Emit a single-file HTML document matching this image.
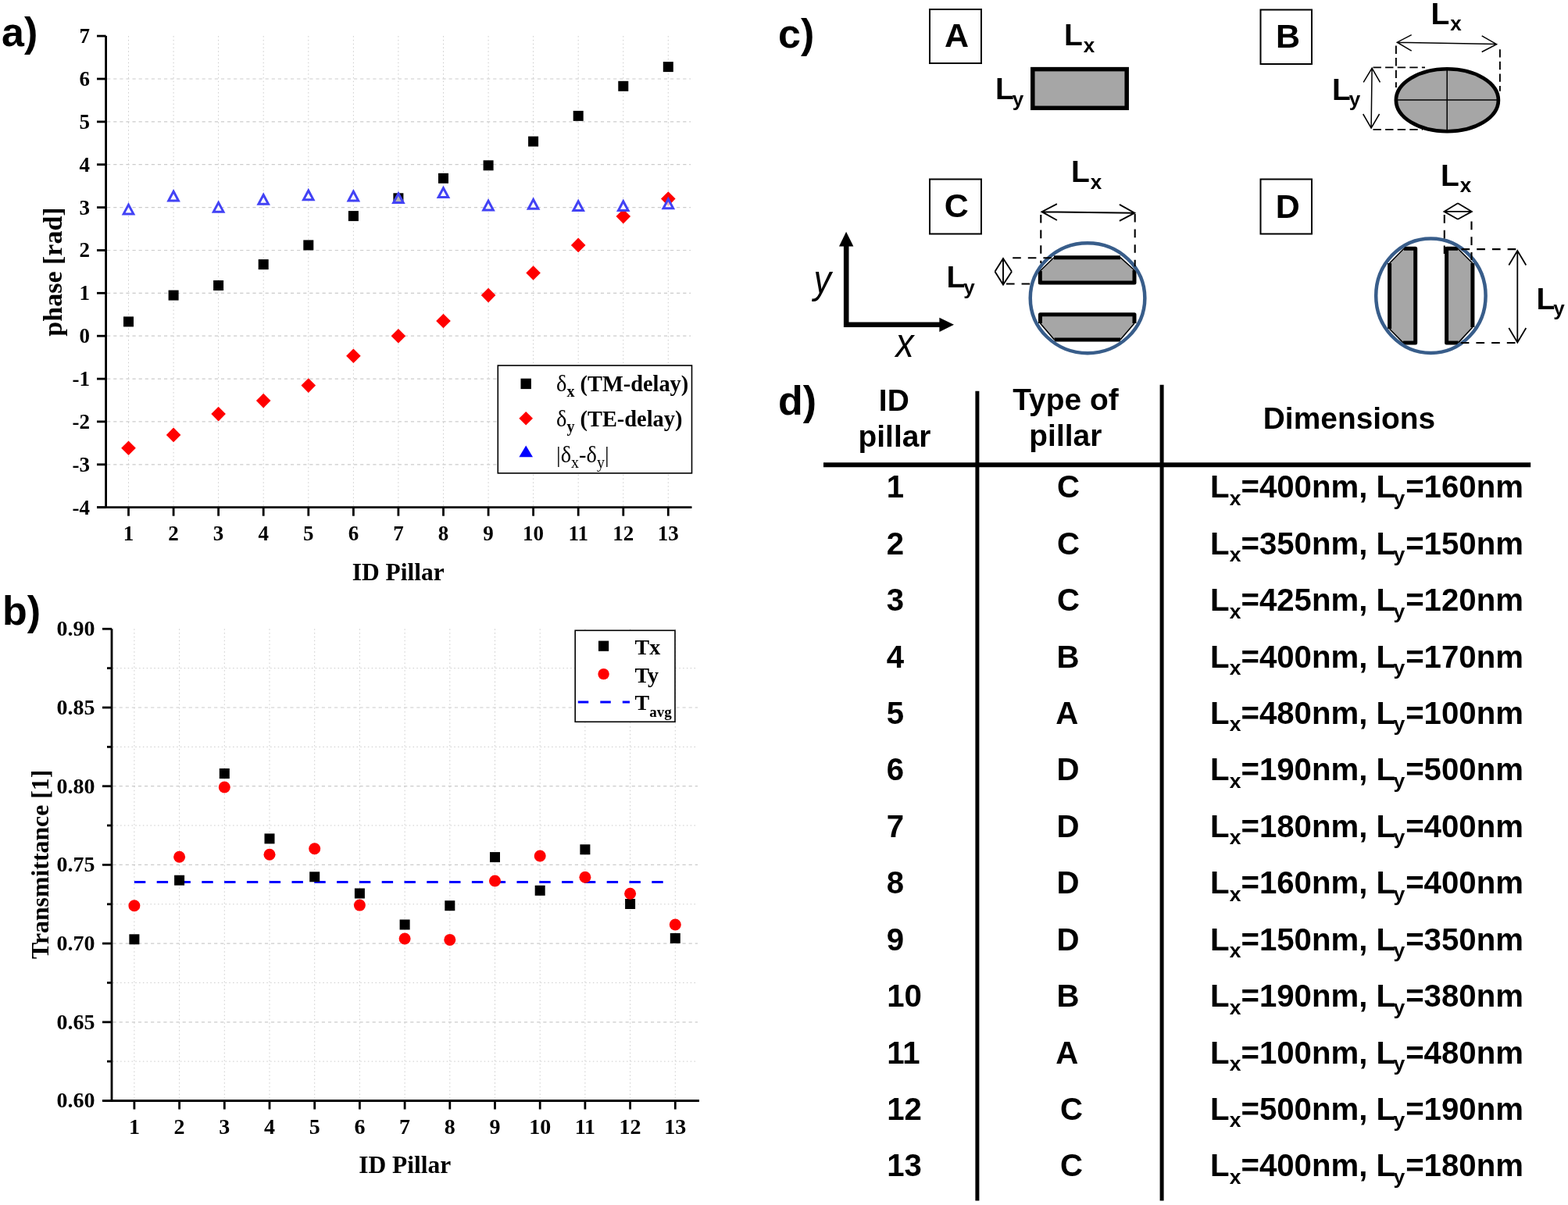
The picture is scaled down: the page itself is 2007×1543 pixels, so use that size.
<!DOCTYPE html>
<html><head><meta charset="utf-8"><title>Figure</title>
<style>html,body{margin:0;padding:0;background:#fff;}svg{display:block;}</style>
</head><body>
<svg width="2007" height="1543" viewBox="0 0 2007 1543">
<rect width="2007" height="1543" fill="#fff"/>
<line x1="164.5" y1="46.1" x2="164.5" y2="649.7" stroke="#cbcbcb" stroke-width="1" stroke-dasharray="1.5 3.3"/>
<line x1="222.1" y1="46.1" x2="222.1" y2="649.7" stroke="#cbcbcb" stroke-width="1" stroke-dasharray="1.5 3.3"/>
<line x1="279.6" y1="46.1" x2="279.6" y2="649.7" stroke="#cbcbcb" stroke-width="1" stroke-dasharray="1.5 3.3"/>
<line x1="337.2" y1="46.1" x2="337.2" y2="649.7" stroke="#cbcbcb" stroke-width="1" stroke-dasharray="1.5 3.3"/>
<line x1="394.8" y1="46.1" x2="394.8" y2="649.7" stroke="#cbcbcb" stroke-width="1" stroke-dasharray="1.5 3.3"/>
<line x1="452.4" y1="46.1" x2="452.4" y2="649.7" stroke="#cbcbcb" stroke-width="1" stroke-dasharray="1.5 3.3"/>
<line x1="509.9" y1="46.1" x2="509.9" y2="649.7" stroke="#cbcbcb" stroke-width="1" stroke-dasharray="1.5 3.3"/>
<line x1="567.5" y1="46.1" x2="567.5" y2="649.7" stroke="#cbcbcb" stroke-width="1" stroke-dasharray="1.5 3.3"/>
<line x1="625.1" y1="46.1" x2="625.1" y2="649.7" stroke="#cbcbcb" stroke-width="1" stroke-dasharray="1.5 3.3"/>
<line x1="682.6" y1="46.1" x2="682.6" y2="649.7" stroke="#cbcbcb" stroke-width="1" stroke-dasharray="1.5 3.3"/>
<line x1="740.2" y1="46.1" x2="740.2" y2="649.7" stroke="#cbcbcb" stroke-width="1" stroke-dasharray="1.5 3.3"/>
<line x1="797.8" y1="46.1" x2="797.8" y2="649.7" stroke="#cbcbcb" stroke-width="1" stroke-dasharray="1.5 3.3"/>
<line x1="855.3" y1="46.1" x2="855.3" y2="649.7" stroke="#cbcbcb" stroke-width="1" stroke-dasharray="1.5 3.3"/>
<line x1="137.1" y1="594.8" x2="884.0" y2="594.8" stroke="#cbcbcb" stroke-width="1.2" stroke-dasharray="4.2 3.9"/>
<line x1="137.1" y1="539.9" x2="884.0" y2="539.9" stroke="#cbcbcb" stroke-width="1.2" stroke-dasharray="4.2 3.9"/>
<line x1="137.1" y1="485.1" x2="884.0" y2="485.1" stroke="#cbcbcb" stroke-width="1.2" stroke-dasharray="4.2 3.9"/>
<line x1="137.1" y1="430.2" x2="884.0" y2="430.2" stroke="#cbcbcb" stroke-width="1.2" stroke-dasharray="4.2 3.9"/>
<line x1="137.1" y1="375.3" x2="884.0" y2="375.3" stroke="#cbcbcb" stroke-width="1.2" stroke-dasharray="4.2 3.9"/>
<line x1="137.1" y1="320.5" x2="884.0" y2="320.5" stroke="#cbcbcb" stroke-width="1.2" stroke-dasharray="4.2 3.9"/>
<line x1="137.1" y1="265.6" x2="884.0" y2="265.6" stroke="#cbcbcb" stroke-width="1.2" stroke-dasharray="4.2 3.9"/>
<line x1="137.1" y1="210.7" x2="884.0" y2="210.7" stroke="#cbcbcb" stroke-width="1.2" stroke-dasharray="4.2 3.9"/>
<line x1="137.1" y1="155.9" x2="884.0" y2="155.9" stroke="#cbcbcb" stroke-width="1.2" stroke-dasharray="4.2 3.9"/>
<line x1="137.1" y1="101.0" x2="884.0" y2="101.0" stroke="#cbcbcb" stroke-width="1.2" stroke-dasharray="4.2 3.9"/>
<g stroke="#000" stroke-width="2.8" fill="none">
<line x1="135.6" y1="46.1" x2="135.6" y2="651.0"/>
<line x1="124" y1="649.7" x2="885.5" y2="649.7"/>
<line x1="124" y1="649.7" x2="135.6" y2="649.7"/>
<line x1="124" y1="594.8" x2="135.6" y2="594.8"/>
<line x1="124" y1="539.9" x2="135.6" y2="539.9"/>
<line x1="124" y1="485.1" x2="135.6" y2="485.1"/>
<line x1="124" y1="430.2" x2="135.6" y2="430.2"/>
<line x1="124" y1="375.3" x2="135.6" y2="375.3"/>
<line x1="124" y1="320.5" x2="135.6" y2="320.5"/>
<line x1="124" y1="265.6" x2="135.6" y2="265.6"/>
<line x1="124" y1="210.7" x2="135.6" y2="210.7"/>
<line x1="124" y1="155.9" x2="135.6" y2="155.9"/>
<line x1="124" y1="101.0" x2="135.6" y2="101.0"/>
<line x1="124" y1="46.1" x2="135.6" y2="46.1"/>
<line x1="164.5" y1="649.7" x2="164.5" y2="660.7"/>
<line x1="222.1" y1="649.7" x2="222.1" y2="660.7"/>
<line x1="279.6" y1="649.7" x2="279.6" y2="660.7"/>
<line x1="337.2" y1="649.7" x2="337.2" y2="660.7"/>
<line x1="394.8" y1="649.7" x2="394.8" y2="660.7"/>
<line x1="452.4" y1="649.7" x2="452.4" y2="660.7"/>
<line x1="509.9" y1="649.7" x2="509.9" y2="660.7"/>
<line x1="567.5" y1="649.7" x2="567.5" y2="660.7"/>
<line x1="625.1" y1="649.7" x2="625.1" y2="660.7"/>
<line x1="682.6" y1="649.7" x2="682.6" y2="660.7"/>
<line x1="740.2" y1="649.7" x2="740.2" y2="660.7"/>
<line x1="797.8" y1="649.7" x2="797.8" y2="660.7"/>
<line x1="855.3" y1="649.7" x2="855.3" y2="660.7"/>
</g>
<g style="font-family:'Liberation Serif','Times New Roman',serif;font-weight:bold;font-size:27px" fill="#000">
<text x="115.1" y="658.6" text-anchor="end">-4</text>
<text x="115.1" y="603.7" text-anchor="end">-3</text>
<text x="115.1" y="548.8" text-anchor="end">-2</text>
<text x="115.1" y="494.0" text-anchor="end">-1</text>
<text x="115.1" y="439.1" text-anchor="end">0</text>
<text x="115.1" y="384.2" text-anchor="end">1</text>
<text x="115.1" y="329.4" text-anchor="end">2</text>
<text x="115.1" y="274.5" text-anchor="end">3</text>
<text x="115.1" y="219.6" text-anchor="end">4</text>
<text x="115.1" y="164.8" text-anchor="end">5</text>
<text x="115.1" y="109.9" text-anchor="end">6</text>
<text x="115.1" y="55.0" text-anchor="end">7</text>
<text x="164.5" y="692.4" text-anchor="middle">1</text>
<text x="222.1" y="692.4" text-anchor="middle">2</text>
<text x="279.6" y="692.4" text-anchor="middle">3</text>
<text x="337.2" y="692.4" text-anchor="middle">4</text>
<text x="394.8" y="692.4" text-anchor="middle">5</text>
<text x="452.4" y="692.4" text-anchor="middle">6</text>
<text x="509.9" y="692.4" text-anchor="middle">7</text>
<text x="567.5" y="692.4" text-anchor="middle">8</text>
<text x="625.1" y="692.4" text-anchor="middle">9</text>
<text x="682.6" y="692.4" text-anchor="middle">10</text>
<text x="740.2" y="692.4" text-anchor="middle">11</text>
<text x="797.8" y="692.4" text-anchor="middle">12</text>
<text x="855.3" y="692.4" text-anchor="middle">13</text>
</g>
<text x="509.7" y="743" text-anchor="middle" style="font-family:'Liberation Serif','Times New Roman',serif;font-weight:bold;font-size:31.5px">ID Pillar</text>
<text transform="translate(78.9,348) rotate(-90)" text-anchor="middle" style="font-family:'Liberation Serif','Times New Roman',serif;font-weight:bold;font-size:34px">phase [rad]</text>
<rect x="158.0" y="405.4" width="13" height="13" fill="#000"/>
<rect x="215.6" y="371.6" width="13" height="13" fill="#000"/>
<rect x="273.1" y="359.0" width="13" height="13" fill="#000"/>
<rect x="330.7" y="332.1" width="13" height="13" fill="#000"/>
<rect x="388.3" y="307.4" width="13" height="13" fill="#000"/>
<rect x="445.9" y="270.1" width="13" height="13" fill="#000"/>
<rect x="503.4" y="247.3" width="13" height="13" fill="#000"/>
<rect x="561.0" y="221.8" width="13" height="13" fill="#000"/>
<rect x="618.6" y="205.3" width="13" height="13" fill="#000"/>
<rect x="676.1" y="174.6" width="13" height="13" fill="#000"/>
<rect x="733.7" y="141.9" width="13" height="13" fill="#000"/>
<rect x="791.3" y="103.8" width="13" height="13" fill="#000"/>
<rect x="848.8" y="79.1" width="13" height="13" fill="#000"/>
<path d="M164.5 564.5L173.8 573.8L164.5 583.1L155.2 573.8Z" fill="#ff0000"/>
<path d="M222.1 547.6L231.4 556.9L222.1 566.2L212.8 556.9Z" fill="#ff0000"/>
<path d="M279.6 520.8L288.9 530.1L279.6 539.4L270.3 530.1Z" fill="#ff0000"/>
<path d="M337.2 503.8L346.5 513.1L337.2 522.4L327.9 513.1Z" fill="#ff0000"/>
<path d="M394.8 484.3L404.1 493.6L394.8 502.9L385.5 493.6Z" fill="#ff0000"/>
<path d="M452.4 446.4L461.7 455.7L452.4 465.0L443.1 455.7Z" fill="#ff0000"/>
<path d="M509.9 420.9L519.2 430.2L509.9 439.5L500.6 430.2Z" fill="#ff0000"/>
<path d="M567.5 401.7L576.8 411.0L567.5 420.3L558.2 411.0Z" fill="#ff0000"/>
<path d="M625.1 368.8L634.4 378.1L625.1 387.4L615.8 378.1Z" fill="#ff0000"/>
<path d="M682.6 340.2L691.9 349.5L682.6 358.8L673.3 349.5Z" fill="#ff0000"/>
<path d="M740.2 304.6L749.5 313.9L740.2 323.2L730.9 313.9Z" fill="#ff0000"/>
<path d="M797.8 267.8L807.1 277.1L797.8 286.4L788.5 277.1Z" fill="#ff0000"/>
<path d="M855.3 245.3L864.6 254.6L855.3 263.9L846.0 254.6Z" fill="#ff0000"/>
<path d="M164.50 262.09L170.80 273.89L158.20 273.89Z" fill="rgba(255,255,255,0.7)" stroke="#4242f5" stroke-width="3"/>
<path d="M222.07 245.08L228.37 256.88L215.77 256.88Z" fill="rgba(255,255,255,0.7)" stroke="#4242f5" stroke-width="3"/>
<path d="M279.64 259.34L285.94 271.14L273.34 271.14Z" fill="rgba(255,255,255,0.7)" stroke="#4242f5" stroke-width="3"/>
<path d="M337.21 249.47L343.51 261.27L330.91 261.27Z" fill="rgba(255,255,255,0.7)" stroke="#4242f5" stroke-width="3"/>
<path d="M394.78 243.98L401.08 255.78L388.48 255.78Z" fill="rgba(255,255,255,0.7)" stroke="#4242f5" stroke-width="3"/>
<path d="M452.35 245.08L458.65 256.88L446.05 256.88Z" fill="rgba(255,255,255,0.7)" stroke="#4242f5" stroke-width="3"/>
<path d="M509.92 247.82L516.22 259.62L503.62 259.62Z" fill="rgba(255,255,255,0.7)" stroke="#4242f5" stroke-width="3"/>
<path d="M567.49 240.69L573.79 252.49L561.19 252.49Z" fill="rgba(255,255,255,0.7)" stroke="#4242f5" stroke-width="3"/>
<path d="M625.06 257.15L631.36 268.95L618.76 268.95Z" fill="rgba(255,255,255,0.7)" stroke="#4242f5" stroke-width="3"/>
<path d="M682.63 255.50L688.93 267.30L676.33 267.30Z" fill="rgba(255,255,255,0.7)" stroke="#4242f5" stroke-width="3"/>
<path d="M740.20 257.70L746.50 269.50L733.90 269.50Z" fill="rgba(255,255,255,0.7)" stroke="#4242f5" stroke-width="3"/>
<path d="M797.77 257.70L804.07 269.50L791.47 269.50Z" fill="rgba(255,255,255,0.7)" stroke="#4242f5" stroke-width="3"/>
<path d="M855.34 254.95L861.64 266.75L849.04 266.75Z" fill="rgba(255,255,255,0.7)" stroke="#4242f5" stroke-width="3"/>
<rect x="637.3" y="468" width="248.2" height="137.9" fill="#fff" stroke="#000" stroke-width="1.6"/>
<rect x="666.5" y="484.7" width="13.4" height="13.4" fill="#000"/>
<path d="M673.2 527L682 535.8L673.2 544.6L664.4 535.8Z" fill="#ff0000"/>
<path d="M673.2 570.4L682 585.2L664.4 585.2Z" fill="#0000ff"/>
<g style="font-family:'Liberation Serif','Times New Roman',serif;font-weight:bold;font-size:28.4px" fill="#000">
<text x="712" y="501.2"><tspan font-weight="normal">δ</tspan><tspan font-size="20" dy="7">x</tspan><tspan dy="-7"> (TM-delay)</tspan></text>
<text x="712" y="545.7"><tspan font-weight="normal">δ</tspan><tspan font-size="20" dy="7">y</tspan><tspan dy="-7"> (TE-delay)</tspan></text>
</g>
<text x="712" y="592.4" style="font-family:'Liberation Serif',serif;font-size:28.4px">|δ<tspan font-size="20" dy="7">x</tspan><tspan dy="-7">-δ</tspan><tspan font-size="20" dy="7">y</tspan><tspan dy="-7">|</tspan></text>
<line x1="171.9" y1="805.3" x2="171.9" y2="1409.5" stroke="#cbcbcb" stroke-width="1" stroke-dasharray="1.5 3.3"/>
<line x1="229.6" y1="805.3" x2="229.6" y2="1409.5" stroke="#cbcbcb" stroke-width="1" stroke-dasharray="1.5 3.3"/>
<line x1="287.3" y1="805.3" x2="287.3" y2="1409.5" stroke="#cbcbcb" stroke-width="1" stroke-dasharray="1.5 3.3"/>
<line x1="345.0" y1="805.3" x2="345.0" y2="1409.5" stroke="#cbcbcb" stroke-width="1" stroke-dasharray="1.5 3.3"/>
<line x1="402.7" y1="805.3" x2="402.7" y2="1409.5" stroke="#cbcbcb" stroke-width="1" stroke-dasharray="1.5 3.3"/>
<line x1="460.4" y1="805.3" x2="460.4" y2="1409.5" stroke="#cbcbcb" stroke-width="1" stroke-dasharray="1.5 3.3"/>
<line x1="518.1" y1="805.3" x2="518.1" y2="1409.5" stroke="#cbcbcb" stroke-width="1" stroke-dasharray="1.5 3.3"/>
<line x1="575.8" y1="805.3" x2="575.8" y2="1409.5" stroke="#cbcbcb" stroke-width="1" stroke-dasharray="1.5 3.3"/>
<line x1="633.5" y1="805.3" x2="633.5" y2="1409.5" stroke="#cbcbcb" stroke-width="1" stroke-dasharray="1.5 3.3"/>
<line x1="691.2" y1="805.3" x2="691.2" y2="1409.5" stroke="#cbcbcb" stroke-width="1" stroke-dasharray="1.5 3.3"/>
<line x1="748.9" y1="805.3" x2="748.9" y2="1409.5" stroke="#cbcbcb" stroke-width="1" stroke-dasharray="1.5 3.3"/>
<line x1="806.6" y1="805.3" x2="806.6" y2="1409.5" stroke="#cbcbcb" stroke-width="1" stroke-dasharray="1.5 3.3"/>
<line x1="864.3" y1="805.3" x2="864.3" y2="1409.5" stroke="#cbcbcb" stroke-width="1" stroke-dasharray="1.5 3.3"/>
<line x1="144.5" y1="1308.8" x2="893.0" y2="1308.8" stroke="#cbcbcb" stroke-width="1.2" stroke-dasharray="4.2 3.9"/>
<line x1="144.5" y1="1208.1" x2="893.0" y2="1208.1" stroke="#cbcbcb" stroke-width="1.2" stroke-dasharray="4.2 3.9"/>
<line x1="144.5" y1="1107.4" x2="893.0" y2="1107.4" stroke="#cbcbcb" stroke-width="1.2" stroke-dasharray="4.2 3.9"/>
<line x1="144.5" y1="1006.7" x2="893.0" y2="1006.7" stroke="#cbcbcb" stroke-width="1.2" stroke-dasharray="4.2 3.9"/>
<line x1="144.5" y1="906.0" x2="893.0" y2="906.0" stroke="#cbcbcb" stroke-width="1.2" stroke-dasharray="4.2 3.9"/>
<line x1="144.5" y1="1359.1" x2="893.0" y2="1359.1" stroke="#cbcbcb" stroke-width="1" stroke-dasharray="1.5 3.3"/>
<line x1="144.5" y1="1258.4" x2="893.0" y2="1258.4" stroke="#cbcbcb" stroke-width="1" stroke-dasharray="1.5 3.3"/>
<line x1="144.5" y1="1157.8" x2="893.0" y2="1157.8" stroke="#cbcbcb" stroke-width="1" stroke-dasharray="1.5 3.3"/>
<line x1="144.5" y1="1057.0" x2="893.0" y2="1057.0" stroke="#cbcbcb" stroke-width="1" stroke-dasharray="1.5 3.3"/>
<line x1="144.5" y1="956.4" x2="893.0" y2="956.4" stroke="#cbcbcb" stroke-width="1" stroke-dasharray="1.5 3.3"/>
<line x1="144.5" y1="855.6" x2="893.0" y2="855.6" stroke="#cbcbcb" stroke-width="1" stroke-dasharray="1.5 3.3"/>
<g stroke="#000" stroke-width="2.8" fill="none">
<line x1="143.0" y1="805.3" x2="143.0" y2="1410.8"/>
<line x1="131" y1="1409.5" x2="895.0" y2="1409.5"/>
<line x1="131" y1="1409.5" x2="143.0" y2="1409.5"/>
<line x1="131" y1="1308.8" x2="143.0" y2="1308.8"/>
<line x1="131" y1="1208.1" x2="143.0" y2="1208.1"/>
<line x1="131" y1="1107.4" x2="143.0" y2="1107.4"/>
<line x1="131" y1="1006.7" x2="143.0" y2="1006.7"/>
<line x1="131" y1="906.0" x2="143.0" y2="906.0"/>
<line x1="131" y1="805.3" x2="143.0" y2="805.3"/>
<line x1="137" y1="1359.1" x2="143.0" y2="1359.1"/>
<line x1="137" y1="1258.4" x2="143.0" y2="1258.4"/>
<line x1="137" y1="1157.8" x2="143.0" y2="1157.8"/>
<line x1="137" y1="1057.0" x2="143.0" y2="1057.0"/>
<line x1="137" y1="956.4" x2="143.0" y2="956.4"/>
<line x1="137" y1="855.6" x2="143.0" y2="855.6"/>
<line x1="171.9" y1="1409.5" x2="171.9" y2="1420.5"/>
<line x1="229.6" y1="1409.5" x2="229.6" y2="1420.5"/>
<line x1="287.3" y1="1409.5" x2="287.3" y2="1420.5"/>
<line x1="345.0" y1="1409.5" x2="345.0" y2="1420.5"/>
<line x1="402.7" y1="1409.5" x2="402.7" y2="1420.5"/>
<line x1="460.4" y1="1409.5" x2="460.4" y2="1420.5"/>
<line x1="518.1" y1="1409.5" x2="518.1" y2="1420.5"/>
<line x1="575.8" y1="1409.5" x2="575.8" y2="1420.5"/>
<line x1="633.5" y1="1409.5" x2="633.5" y2="1420.5"/>
<line x1="691.2" y1="1409.5" x2="691.2" y2="1420.5"/>
<line x1="748.9" y1="1409.5" x2="748.9" y2="1420.5"/>
<line x1="806.6" y1="1409.5" x2="806.6" y2="1420.5"/>
<line x1="864.3" y1="1409.5" x2="864.3" y2="1420.5"/>
</g>
<g style="font-family:'Liberation Serif','Times New Roman',serif;font-weight:bold;font-size:28px" fill="#000">
<text x="121.5" y="1418.4" text-anchor="end">0.60</text>
<text x="121.5" y="1317.7" text-anchor="end">0.65</text>
<text x="121.5" y="1217.0" text-anchor="end">0.70</text>
<text x="121.5" y="1116.3" text-anchor="end">0.75</text>
<text x="121.5" y="1015.6" text-anchor="end">0.80</text>
<text x="121.5" y="914.9" text-anchor="end">0.85</text>
<text x="121.5" y="814.2" text-anchor="end">0.90</text>
<text x="171.9" y="1452" text-anchor="middle">1</text>
<text x="229.6" y="1452" text-anchor="middle">2</text>
<text x="287.3" y="1452" text-anchor="middle">3</text>
<text x="345.0" y="1452" text-anchor="middle">4</text>
<text x="402.7" y="1452" text-anchor="middle">5</text>
<text x="460.4" y="1452" text-anchor="middle">6</text>
<text x="518.1" y="1452" text-anchor="middle">7</text>
<text x="575.8" y="1452" text-anchor="middle">8</text>
<text x="633.5" y="1452" text-anchor="middle">9</text>
<text x="691.2" y="1452" text-anchor="middle">10</text>
<text x="748.9" y="1452" text-anchor="middle">11</text>
<text x="806.6" y="1452" text-anchor="middle">12</text>
<text x="864.3" y="1452" text-anchor="middle">13</text>
</g>
<text x="518.2" y="1502" text-anchor="middle" style="font-family:'Liberation Serif','Times New Roman',serif;font-weight:bold;font-size:31.5px">ID Pillar</text>
<text transform="translate(61.5,1106.8) rotate(-90)" text-anchor="middle" style="font-family:'Liberation Serif','Times New Roman',serif;font-weight:bold;font-size:31.8px">Transmittance [1]</text>
<line x1="171.9" y1="1129.6" x2="851" y2="1129.6" stroke="#0000ff" stroke-width="3" stroke-dasharray="14.4 14.4"/>
<rect x="165.4" y="1196.3" width="13" height="13" fill="#000"/>
<rect x="223.1" y="1120.7" width="13" height="13" fill="#000"/>
<rect x="280.8" y="984.0" width="13" height="13" fill="#000"/>
<rect x="338.5" y="1067.4" width="13" height="13" fill="#000"/>
<rect x="396.2" y="1116.3" width="13" height="13" fill="#000"/>
<rect x="453.9" y="1137.5" width="13" height="13" fill="#000"/>
<rect x="511.6" y="1177.5" width="13" height="13" fill="#000"/>
<rect x="569.3" y="1153.2" width="13" height="13" fill="#000"/>
<rect x="627.0" y="1091.1" width="13" height="13" fill="#000"/>
<rect x="684.7" y="1133.8" width="13" height="13" fill="#000"/>
<rect x="742.4" y="1081.3" width="13" height="13" fill="#000"/>
<rect x="800.1" y="1151.0" width="13" height="13" fill="#000"/>
<rect x="857.8" y="1194.9" width="13" height="13" fill="#000"/>
<circle cx="171.9" cy="1159.7" r="7.5" fill="#ff0000"/>
<circle cx="229.6" cy="1097.2" r="7.5" fill="#ff0000"/>
<circle cx="287.3" cy="1008.0" r="7.5" fill="#ff0000"/>
<circle cx="345.0" cy="1094.2" r="7.5" fill="#ff0000"/>
<circle cx="402.7" cy="1086.8" r="7.5" fill="#ff0000"/>
<circle cx="460.4" cy="1159.1" r="7.5" fill="#ff0000"/>
<circle cx="518.1" cy="1202.0" r="7.5" fill="#ff0000"/>
<circle cx="575.8" cy="1203.4" r="7.5" fill="#ff0000"/>
<circle cx="633.5" cy="1128.0" r="7.5" fill="#ff0000"/>
<circle cx="691.2" cy="1096.0" r="7.5" fill="#ff0000"/>
<circle cx="748.9" cy="1123.2" r="7.5" fill="#ff0000"/>
<circle cx="806.6" cy="1144.2" r="7.5" fill="#ff0000"/>
<circle cx="864.3" cy="1184.0" r="7.5" fill="#ff0000"/>
<rect x="736.2" y="807.3" width="127.8" height="117" fill="#fff" stroke="#000" stroke-width="1.6"/>
<rect x="766" y="820.6" width="13.2" height="13.2" fill="#000"/>
<circle cx="772.6" cy="863.1" r="7.2" fill="#ff0000"/>
<line x1="739.8" y1="899.1" x2="806" y2="899.1" stroke="#0000ff" stroke-width="3" stroke-dasharray="13.5 15"/>
<g style="font-family:'Liberation Serif','Times New Roman',serif;font-weight:bold;font-size:28px" fill="#000">
<text x="812.5" y="838">Tx</text>
<text x="812.5" y="874">Ty</text>
<text x="812.5" y="908.7">T<tspan font-size="19" dy="9.6">avg</tspan></text>
</g>
<g style="font-family:'Liberation Sans',Arial,sans-serif;font-weight:bold;font-size:52px" fill="#000">
<text x="2" y="58.5">a)</text>
<text x="3" y="800">b)</text>
<text x="996" y="61">c)</text>
<text x="996" y="531">d)</text>
</g>
<rect x="1190" y="12" width="66" height="69" fill="none" stroke="#000" stroke-width="2"/>
<text x="1224.5" y="60.3" text-anchor="middle" style="font-family:'Liberation Sans',Arial,sans-serif;font-weight:bold;font-size:43px">A</text>
<rect x="1613.5" y="12.5" width="65.5" height="69.5" fill="none" stroke="#000" stroke-width="2"/>
<text x="1648.5" y="60.6" text-anchor="middle" style="font-family:'Liberation Sans',Arial,sans-serif;font-weight:bold;font-size:43px">B</text>
<rect x="1190" y="229.5" width="66" height="70.0" fill="none" stroke="#000" stroke-width="2"/>
<text x="1224.3" y="277.6" text-anchor="middle" style="font-family:'Liberation Sans',Arial,sans-serif;font-weight:bold;font-size:43px">C</text>
<rect x="1613.5" y="229.5" width="65.5" height="70.0" fill="none" stroke="#000" stroke-width="2"/>
<text x="1648.3" y="278.6" text-anchor="middle" style="font-family:'Liberation Sans',Arial,sans-serif;font-weight:bold;font-size:43px">D</text>
<text x="1362" y="58.4" style="font-family:'Liberation Sans',Arial,sans-serif;font-weight:bold;font-size:39px">L<tspan dx="0.8" dy="8.6" style="font-size:26.0px">x</tspan></text>
<text x="1274" y="127.4" style="font-family:'Liberation Sans',Arial,sans-serif;font-weight:bold;font-size:39px">L<tspan dx="-2" dy="8.6" style="font-size:26.0px">y</tspan></text>
<rect x="1321.8" y="88.6" width="120.4" height="49.7" fill="#a6a6a6" stroke="#000" stroke-width="5.5"/>
<text x="1831.6" y="30.6" style="font-family:'Liberation Sans',Arial,sans-serif;font-weight:bold;font-size:39px">L<tspan dx="0.8" dy="8.6" style="font-size:26.0px">x</tspan></text>
<text x="1705" y="127.7" style="font-family:'Liberation Sans',Arial,sans-serif;font-weight:bold;font-size:39px">L<tspan dx="-2" dy="8.6" style="font-size:26.0px">y</tspan></text>
<ellipse cx="1852.4" cy="128.25" rx="65.5" ry="40" fill="#a6a6a6" stroke="#000" stroke-width="4.7"/>
<g stroke="#000" stroke-width="1.5" fill="none">
<line x1="1852.2" y1="88.3" x2="1852.2" y2="168"/><line x1="1787" y1="128" x2="1918" y2="128"/>
<path d="M1788.3 54.2L1915.6 56.6M1806.7 44.7L1788.3 54.2L1806.7 65.1M1896.7 45.9L1915.6 56.6L1896.7 66.5"/>
<path d="M1756.1 87.3L1755.1 164M1745.2 105.3L1756.1 87.3L1766.5 105.3M1744.7 146L1755.1 164L1765.6 146"/>
</g>
<g stroke="#000" stroke-width="1.9" fill="none" stroke-dasharray="10.4 5.2">
<path d="M1786.9 58.5V112M1919.9 63.2V116.7M1757.5 86.4H1824M1757.5 165.9H1821"/>
</g>
<g stroke="#000" stroke-width="6.6" fill="none"><path d="M1083.2 313V415.8H1203"/></g>
<path d="M1074 315.5L1083.1 296.8L1092.4 315.5Z" fill="#000"/>
<path d="M1202.4 406.8L1221 415.7L1202.4 425Z" fill="#000"/>
<text transform="translate(1041.5,375) scale(0.88,1)" style="font-family:'Liberation Sans',Arial,sans-serif;font-style:italic;font-size:51px">y</text>
<text transform="translate(1146.5,457) scale(0.9,1)" style="font-family:'Liberation Sans',Arial,sans-serif;font-style:italic;font-size:51.5px">x</text>
<text x="1371" y="233.1" style="font-family:'Liberation Sans',Arial,sans-serif;font-weight:bold;font-size:39px">L<tspan dx="0.8" dy="8.6" style="font-size:26.0px">x</tspan></text>
<text x="1211.5" y="368.3" style="font-family:'Liberation Sans',Arial,sans-serif;font-weight:bold;font-size:39px">L<tspan dx="-2" dy="8.6" style="font-size:26.0px">y</tspan></text>
<g fill="#a6a6a6"><path d="M1331.3 362V347L1349 329.7H1434L1452 346V362Z"/><path d="M1331.5 402.7V414L1349.5 435H1434L1452 414V402.7Z"/></g>
<g fill="none" stroke="#000" stroke-width="5" stroke-linejoin="round"><path d="M1349 329.7H1434M1331.3 347V362H1452V346M1349.5 435H1434M1331.5 414V402.7H1452V414"/></g>
<g fill="none" stroke="#000" stroke-width="1.6"><path d="M1331.3 347L1349 329.7M1434 329.7L1452 346M1331.5 414L1349.5 435M1434 435L1452 414"/></g>
<ellipse cx="1392.05" cy="381.65" rx="73.3" ry="70.5" fill="none" stroke="#385d8a" stroke-width="4.5"/>
<g stroke="#000" stroke-width="1.9" fill="none">
<path d="M1333.5 271.2L1452.3 272.7M1352.9 261.1L1333.5 271.2L1352.9 282M1432.9 261.9L1452.3 272.7L1432.9 282.8"/>
<path d="M1284 331V364.6M1273.5 347.7L1284 331L1295 347.7M1273.5 347.7L1284 364.6L1295 347.7"/>
</g>
<g stroke="#000" stroke-width="2.1" fill="none" stroke-dasharray="10.6 9">
<path d="M1332.3 275V337M1452.7 274V341.3M1296.2 330.3H1346M1288 363.5H1322"/>
</g>
<text x="1844" y="237.7" style="font-family:'Liberation Sans',Arial,sans-serif;font-weight:bold;font-size:39px">L<tspan dx="0.8" dy="8.6" style="font-size:26.0px">x</tspan></text>
<text x="1966.5" y="395.8" style="font-family:'Liberation Sans',Arial,sans-serif;font-weight:bold;font-size:39px">L<tspan dx="-2" dy="8.6" style="font-size:26.0px">y</tspan></text>
<g fill="#a6a6a6"><path d="M1811.7 318.3H1797L1778.6 337V421.2L1796 438.9H1811.7Z"/><path d="M1851.6 318.3H1866L1884.9 337V419L1866.6 438.9H1851.6Z"/></g>
<g fill="none" stroke="#000" stroke-width="5" stroke-linejoin="round"><path d="M1797 318.3H1811.7V438.9H1796M1778.6 337V421.2M1866 318.3H1851.6V438.9H1866.6M1884.9 337V419"/></g>
<g fill="none" stroke="#000" stroke-width="1.6"><path d="M1797 318.3L1778.6 337M1778.6 421.2L1796 438.9M1866 318.3L1884.9 337M1884.9 419L1866.6 438.9"/></g>
<ellipse cx="1831.4" cy="378.7" rx="70.2" ry="73.3" fill="none" stroke="#385d8a" stroke-width="4.5"/>
<g stroke="#000" stroke-width="1.8" fill="none">
<path d="M1848.4 270.9H1883.9M1866 260.2L1848.4 270.9L1866 280.8M1866 260.2L1883.9 270.9L1866 280.8"/>
<path d="M1942.3 321V438.4M1931.3 339.5L1942.3 321L1953.3 339.5M1931.3 420L1942.3 438.4L1953.3 420"/>
</g>
<g stroke="#000" stroke-width="2.1" fill="none" stroke-dasharray="10.7 9">
<path d="M1848.8 275.1V325M1883.5 283.5V333M1870.5 319.1H1941M1869.7 439H1942"/>
</g>
<g stroke="#000" fill="none">
<line x1="1054" y1="595.3" x2="1959.2" y2="595.3" stroke-width="6"/>
<line x1="1250.9" y1="500.8" x2="1250.9" y2="1537.6" stroke-width="5"/>
<line x1="1487.1" y1="492.7" x2="1487.1" y2="1537.6" stroke-width="5"/>
</g>
<g style="font-family:'Liberation Sans',Arial,sans-serif;font-weight:bold;font-size:38.9px" fill="#000">
<text x="1144.3" y="526.3" text-anchor="middle">ID</text>
<text x="1145" y="572" text-anchor="middle">pillar</text>
<text x="1363.9" y="525" text-anchor="middle">Type of</text>
<text x="1363.8" y="571.3" text-anchor="middle">pillar</text>
<text x="1727" y="548.5" text-anchor="middle">Dimensions</text>
</g>
<g style="font-family:'Liberation Sans',Arial,sans-serif;font-weight:bold;font-size:40.2px" fill="#000">
<text x="1146" y="637.2" text-anchor="middle">1</text>
<text x="1367.4" y="637.2" text-anchor="middle">C</text>
<text x="1549.1" y="637.2">L<tspan dy="9.4" font-size="26.5">x</tspan><tspan dy="-9.4">=400nm, L</tspan><tspan dx="-2.5" dy="9.4" font-size="26.5">y</tspan><tspan dx="0.8" dy="-9.4">=160nm</tspan></text>
<text x="1146" y="709.6" text-anchor="middle">2</text>
<text x="1367.4" y="709.6" text-anchor="middle">C</text>
<text x="1549.1" y="709.6">L<tspan dy="9.4" font-size="26.5">x</tspan><tspan dy="-9.4">=350nm, L</tspan><tspan dx="-2.5" dy="9.4" font-size="26.5">y</tspan><tspan dx="0.8" dy="-9.4">=150nm</tspan></text>
<text x="1146" y="782.1" text-anchor="middle">3</text>
<text x="1367.4" y="782.1" text-anchor="middle">C</text>
<text x="1549.1" y="782.1">L<tspan dy="9.4" font-size="26.5">x</tspan><tspan dy="-9.4">=425nm, L</tspan><tspan dx="-2.5" dy="9.4" font-size="26.5">y</tspan><tspan dx="0.8" dy="-9.4">=120nm</tspan></text>
<text x="1146" y="854.5" text-anchor="middle">4</text>
<text x="1366.9" y="854.5" text-anchor="middle">B</text>
<text x="1549.1" y="854.5">L<tspan dy="9.4" font-size="26.5">x</tspan><tspan dy="-9.4">=400nm, L</tspan><tspan dx="-2.5" dy="9.4" font-size="26.5">y</tspan><tspan dx="0.8" dy="-9.4">=170nm</tspan></text>
<text x="1146" y="926.9" text-anchor="middle">5</text>
<text x="1365.8" y="926.9" text-anchor="middle">A</text>
<text x="1549.1" y="926.9">L<tspan dy="9.4" font-size="26.5">x</tspan><tspan dy="-9.4">=480nm, L</tspan><tspan dx="-2.5" dy="9.4" font-size="26.5">y</tspan><tspan dx="0.8" dy="-9.4">=100nm</tspan></text>
<text x="1146" y="999.4" text-anchor="middle">6</text>
<text x="1367" y="999.4" text-anchor="middle">D</text>
<text x="1549.1" y="999.4">L<tspan dy="9.4" font-size="26.5">x</tspan><tspan dy="-9.4">=190nm, L</tspan><tspan dx="-2.5" dy="9.4" font-size="26.5">y</tspan><tspan dx="0.8" dy="-9.4">=500nm</tspan></text>
<text x="1146" y="1071.8" text-anchor="middle">7</text>
<text x="1367" y="1071.8" text-anchor="middle">D</text>
<text x="1549.1" y="1071.8">L<tspan dy="9.4" font-size="26.5">x</tspan><tspan dy="-9.4">=180nm, L</tspan><tspan dx="-2.5" dy="9.4" font-size="26.5">y</tspan><tspan dx="0.8" dy="-9.4">=400nm</tspan></text>
<text x="1146" y="1144.2" text-anchor="middle">8</text>
<text x="1367" y="1144.2" text-anchor="middle">D</text>
<text x="1549.1" y="1144.2">L<tspan dy="9.4" font-size="26.5">x</tspan><tspan dy="-9.4">=160nm, L</tspan><tspan dx="-2.5" dy="9.4" font-size="26.5">y</tspan><tspan dx="0.8" dy="-9.4">=400nm</tspan></text>
<text x="1146" y="1216.6" text-anchor="middle">9</text>
<text x="1367" y="1216.6" text-anchor="middle">D</text>
<text x="1549.1" y="1216.6">L<tspan dy="9.4" font-size="26.5">x</tspan><tspan dy="-9.4">=150nm, L</tspan><tspan dx="-2.5" dy="9.4" font-size="26.5">y</tspan><tspan dx="0.8" dy="-9.4">=350nm</tspan></text>
<text x="1135.2" y="1289.1">10</text>
<text x="1366.9" y="1289.1" text-anchor="middle">B</text>
<text x="1549.1" y="1289.1">L<tspan dy="9.4" font-size="26.5">x</tspan><tspan dy="-9.4">=190nm, L</tspan><tspan dx="-2.5" dy="9.4" font-size="26.5">y</tspan><tspan dx="0.8" dy="-9.4">=380nm</tspan></text>
<text x="1135.2" y="1361.5">11</text>
<text x="1365.8" y="1361.5" text-anchor="middle">A</text>
<text x="1549.1" y="1361.5">L<tspan dy="9.4" font-size="26.5">x</tspan><tspan dy="-9.4">=100nm, L</tspan><tspan dx="-2.5" dy="9.4" font-size="26.5">y</tspan><tspan dx="0.8" dy="-9.4">=480nm</tspan></text>
<text x="1135.2" y="1433.9">12</text>
<text x="1371.5" y="1433.9" text-anchor="middle">C</text>
<text x="1549.1" y="1433.9">L<tspan dy="9.4" font-size="26.5">x</tspan><tspan dy="-9.4">=500nm, L</tspan><tspan dx="-2.5" dy="9.4" font-size="26.5">y</tspan><tspan dx="0.8" dy="-9.4">=190nm</tspan></text>
<text x="1135.2" y="1506.4">13</text>
<text x="1371.5" y="1506.4" text-anchor="middle">C</text>
<text x="1549.1" y="1506.4">L<tspan dy="9.4" font-size="26.5">x</tspan><tspan dy="-9.4">=400nm, L</tspan><tspan dx="-2.5" dy="9.4" font-size="26.5">y</tspan><tspan dx="0.8" dy="-9.4">=180nm</tspan></text>
</g>
</svg>
</body></html>
